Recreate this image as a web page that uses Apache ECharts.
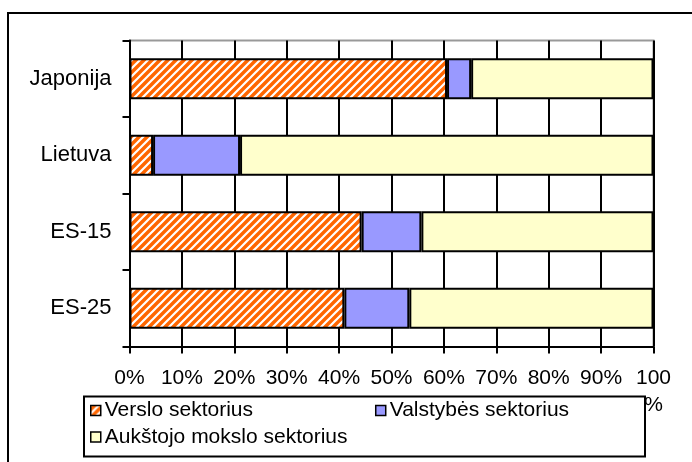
<!DOCTYPE html>
<html lang="lt">
<head>
<meta charset="UTF-8">
<title>Sektoriai</title>
<style>
  * { margin: 0; padding: 0; }
  html, body { width: 692px; height: 462px; background: #fff; overflow: hidden; }
  #chart { width: 692px; height: 462px; }
</style>
</head>
<body>
<div id="chart"></div>
<script src="https://cdn.jsdelivr.net/npm/echarts@6/dist/echarts.min.js"></script>
<script>
  // duomenys
  var countries = ['Japonija', 'Lietuva', 'ES-15', 'ES-25'];
  var seriesNames = ['Verslo sektorius', 'Valstybės sektorius', 'Aukštojo mokslo sektorius'];
  var verslo = [60.6, 4.5, 44.3, 41.0];
  var valstybes = [4.6, 16.6, 11.4, 12.4];
  var aukstojo = [34.8, 78.9, 44.3, 46.6];
  var xTicks = [0, 10, 20, 30, 40, 50, 60, 70, 80, 90, 100];

  // oranzinis brūkšniuotas raštas
  function hatch() {
    var c = document.createElement('canvas');
    c.width = 8; c.height = 8;
    var ctx = c.getContext('2d');
    ctx.fillStyle = '#FF6600';
    ctx.fillRect(0, 0, 8, 8);
    ctx.strokeStyle = '#ffffff';
    ctx.lineWidth = 2.2;
    ctx.beginPath();
    ctx.moveTo(-4, 4); ctx.lineTo(4, -4);
    ctx.moveTo(0, 8); ctx.lineTo(8, 0);
    ctx.moveTo(4, 12); ctx.lineTo(12, 4);
    ctx.stroke();
    return c;
  }
  var hatchFill = { image: hatch(), repeat: 'repeat' };

  var font = 'Liberation Sans, Arial, sans-serif';
  var chart = echarts.init(document.getElementById('chart'), null, { renderer: 'canvas' });

  var values = [verslo, valstybes, aukstojo];
  var colors = [hatchFill, '#9999FF', '#FFFFCC'];

  var series = seriesNames.map(function (name, i) {
    return {
      name: name,
      type: 'bar',
      stack: 'total',
      barWidth: 41,
      data: values[i],
      itemStyle: { color: colors[i], borderColor: '#000', borderWidth: 2 },
      emphasis: { disabled: true }
    };
  });

  var legendBase = {
    orient: 'horizontal',
    left: 90,
    itemWidth: 10,
    itemHeight: 10,
    padding: 0,
    icon: 'rect',
    itemStyle: { borderColor: '#000', borderWidth: 1.5 },
    textStyle: { fontFamily: font, fontSize: 21, color: '#000', padding: [0, 0, 0, -1] }
  };

  chart.setOption({
    animation: false,
    backgroundColor: '#fff',
    graphic: [{
      type: 'rect',
      shape: { x: 8, y: 13, width: 700, height: 470 },
      style: { fill: 'none', stroke: '#000', lineWidth: 2 },
      z: -1
    }, {
      // rėmelio viršus ir dešinė (pilka)
      type: 'polyline',
      shape: { points: [[129, 40.5], [653.5, 40.5], [653.5, 346.5]] },
      style: { fill: 'none', stroke: '#999', lineWidth: 2 },
      z: 0
    }, {
      // legendos rėmelis
      type: 'rect',
      shape: { x: 84, y: 396.5, width: 561, height: 60 },
      style: { fill: '#fff', stroke: '#000', lineWidth: 2 },
      z: 0
    }],
    grid: { left: 129.5, right: 38.5, top: 40.5, height: 306, containLabel: false },
    legend: [
      Object.assign({}, legendBase, { data: seriesNames.slice(0, 2), top: 400, itemGap: 122 }),
      Object.assign({}, legendBase, { data: seriesNames.slice(2), top: 426.5 })
    ],
    xAxis: {
      type: 'value',
      min: 0,
      max: 100,
      interval: 10,
      axisLine: { show: true, lineStyle: { color: '#000', width: 2 } },
      axisTick: { show: true, length: 7, lineStyle: { color: '#000', width: 2 } },
      splitLine: { show: true, lineStyle: { color: '#000', width: 2 } },
      axisLabel: {
        fontFamily: font,
        fontSize: 21,
        color: '#000',
        margin: 18,
        verticalAlign: 'top',
        lineHeight: 27,
        formatter: function (v) { return v === 100 ? '100\n%' : v + '%'; }
      }
    },
    yAxis: {
      type: 'category',
      inverse: true,
      data: countries,
      axisLine: { show: true, lineStyle: { color: '#000', width: 2 } },
      axisTick: { show: true, length: 7, alignWithLabel: false, lineStyle: { color: '#000', width: 2 } },
      axisLabel: { fontFamily: font, fontSize: 22, color: '#000', margin: 18 }
    },
    series: series
  });
</script>
</body>
</html>
